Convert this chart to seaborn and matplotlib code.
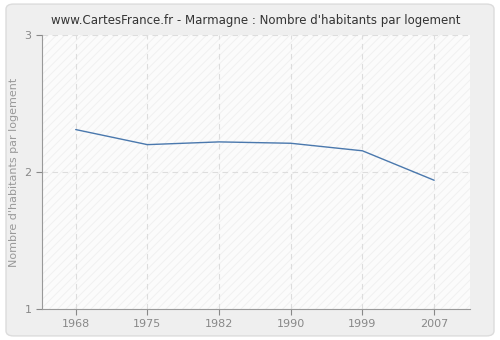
import matplotlib
matplotlib.use("Agg")
import matplotlib.pyplot as plt
from matplotlib.patches import FancyBboxPatch, Rectangle
import pandas as pd
import seaborn as sns

years = ["1968", "1975", "1982", "1990", "1999", "2007"]
habitants = [2.31, 2.20, 2.22, 2.21, 2.155, 1.94]

sns.set_style("white")
plt.rcParams["font.family"] = ["DejaVu Sans"]
plt.rcParams["hatch.linewidth"] = 0.6

df = pd.DataFrame({"pos": range(len(years)), "val": habitants})

fig = plt.figure(figsize=(5, 3.4), dpi=100)
fig.patch.set_facecolor("white")
fig.patches.append(FancyBboxPatch((0.012, 0.012), 0.976, 0.976, boxstyle="round,pad=0,rounding_size=0.015",
                                  transform=fig.transFigure, facecolor="#efefef", edgecolor="#dcdcdc",
                                  linewidth=1, zorder=-10))
ax = fig.add_axes([0.084, 0.091, 0.856, 0.806])
ax.set_facecolor("#fbfbfb")
# light diagonal hatching in the plot area
ax.add_patch(Rectangle((0, 0), 1, 1, transform=ax.transAxes, facecolor="none",
                       edgecolor="#efefef", hatch="////", linewidth=0, zorder=0))

sns.lineplot(data=df, x="pos", y="val", ax=ax, color="#4a78ad", linewidth=1, zorder=3)

ax.set_xlim(-0.47, 5.5)
ax.set_ylim(1, 3)
ax.set_xticks(range(len(years)))
ax.set_xticklabels(years)
ax.set_yticks([1, 2, 3])
ax.grid(True, color="#dddddd", linestyle=(0, (5, 4)), linewidth=0.8)
ax.set_axisbelow(True)

for s in ["top", "right"]:
    ax.spines[s].set_visible(False)
for s in ["left", "bottom"]:
    ax.spines[s].set_color("#999999")
ax.tick_params(axis="both", colors="#888888", labelsize=8, length=4, width=0.8,
               direction="out", bottom=True, left=True)
for lab in ax.get_xticklabels() + ax.get_yticklabels():
    lab.set_color("#888888")

ax.set_xlabel("")
ax.set_ylabel("Nombre d'habitants par logement", color="#999999", fontsize=8)
ax.set_title("www.CartesFrance.fr - Marmagne : Nombre d'habitants par logement",
             fontsize=8.5, color="#333333", pad=8)

fig.savefig("out.png", dpi=100, facecolor=fig.get_facecolor())
